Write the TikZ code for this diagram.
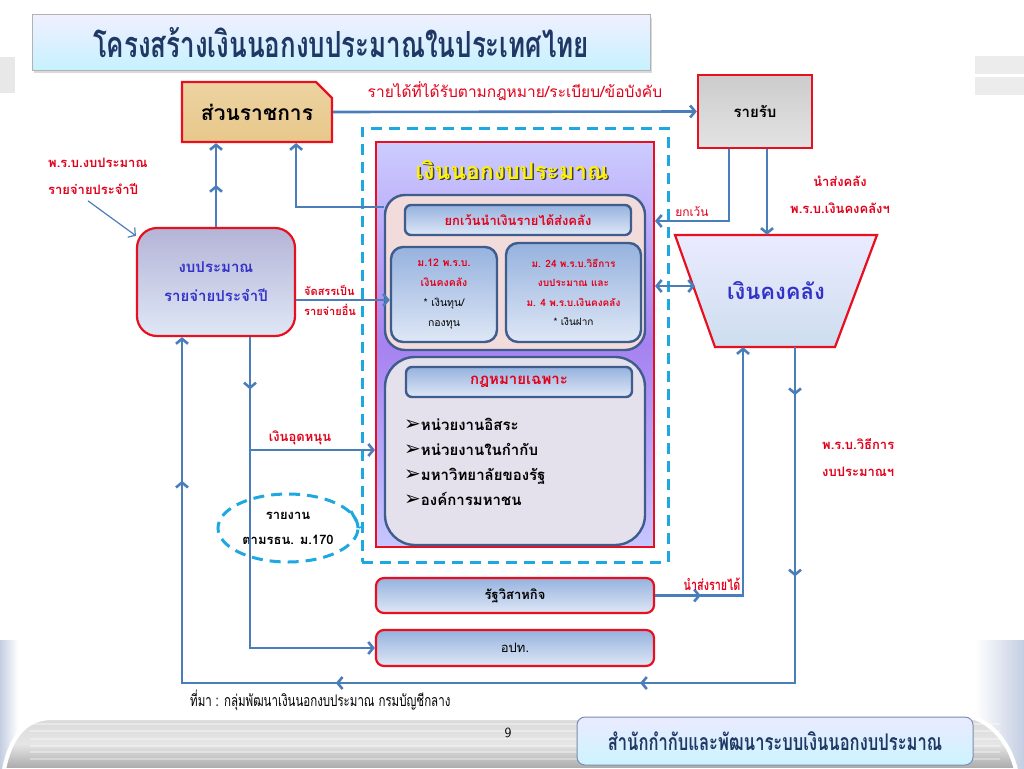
\documentclass[tikz,border=0pt]{standalone}
\usepackage{fontspec}
\newfontfamily\thai[Script=Thai]{Loma}
\newfontfamily\thainarrow[Script=Thai,FakeStretch=0.72]{Loma}
\newfontfamily\symfont{DejaVu Sans}
\usetikzlibrary{arrows.meta, shapes.geometric, shapes.misc, decorations.markings, shadows}
\definecolor{linkblue}{RGB}{74,126,187}
\definecolor{dashcyan}{RGB}{30,168,224}
\definecolor{boxred}{RGB}{232,16,32}
\definecolor{txtred}{RGB}{226,0,26}
\definecolor{navy}{RGB}{31,56,100}
\definecolor{txtblue}{RGB}{50,50,200}
\definecolor{frameblue}{RGB}{62,92,140}
\definecolor{paleblue}{RGB}{222,231,246}
\definecolor{midblue}{RGB}{150,178,222}
\definecolor{papyrus}{RGB}{232,200,138}
\definecolor{lilac}{RGB}{166,130,240}
\definecolor{sideshade}{RGB}{196,206,226}
\tikzset{
    >={Straight Barb[length=5pt,width=12pt]}, % open arrow heads
    conn/.style={color=linkblue, line width=2.6pt, ->},
    tipat/.style={postaction={decorate,decoration={markings,mark=at position #1 with {\arrow{>}}}}},
    redbox/.style={draw=boxred, line width=2.2pt, rounded corners=#1, top color=midblue, bottom color=paleblue, inner sep=0pt},
    innerbox/.style={draw=frameblue, line width=2.4pt, rounded corners=#1, inner sep=0pt},
    subbox/.style={innerbox=#1, top color=midblue, bottom color=paleblue},
    redlabel/.style={text=txtred, font=\thai\bfseries\fontsize{13}{27}\selectfont, align=left, inner sep=0pt},
    dashframe/.style={draw=dashcyan, line width=3pt, dash pattern=on 11pt off 7pt},
}
\newcommand{\itm}[1]{{\symfont\fontsize{20}{20}\selectfont\char"27A2}{\thai\bfseries #1}}
\begin{document}
\begin{tikzpicture}[x=1pt, y=-1pt]
    \useasboundingbox (0,0) rectangle (1024,768);
    % background of the slide
    \fill[gray!18] (0,57) rectangle (15,93);
    \fill[gray!15] (975,56) rectangle (1024,74);
    \fill[gray!15] (975,77) rectangle (1024,95);
    \fill[left color=sideshade, right color=white] (0,640) rectangle (18,768);
    \fill[left color=white, right color=sideshade] (975,640) rectangle (1024,768);
    \fill[top color=gray!30, bottom color=gray!70, middle color=gray!20, draw=white, line width=4pt]
        (4,770) .. controls (10,738) and (25,718) .. (52,718) -- (975,718)
        .. controls (995,726) and (1010,745) .. (1016,770) -- cycle;
    \foreach \s in {724,731,739,746,752,759} {
        \draw[white, opacity=0.35, line width=1.5pt] (30,\s) -- (1000,\s);
    }

    % Titel
    \node[draw=gray!60, line width=1pt, top color=blue!6!white, bottom color=blue!25!cyan!22,
          drop shadow={shadow xshift=2pt, shadow yshift=-3pt, opacity=0.3},
          minimum width=618, minimum height=55, inner sep=0pt] (title) at (341,42.5)
          {\thainarrow\bfseries\fontsize{36}{40}\selectfont\color{navy}โครงสร้างเงินนอกงบประมาณในประเทศไทย};

    % Kasten oben
    \node[chamfered rectangle, chamfered rectangle corners=north east, chamfered rectangle xsep=8pt,
          chamfered rectangle ysep=8pt, draw=boxred, line width=2.2pt, top color=papyrus!80!white,
          bottom color=papyrus, minimum width=150, minimum height=60, inner sep=0pt] (agency) at (257,112)
          {\thai\bfseries\fontsize{21}{24}\selectfont ส่วนราชการ};
    \node[draw=boxred, line width=2.4pt, top color=gray!40, bottom color=gray!22,
          minimum width=114, minimum height=73, inner sep=0pt] (revenue) at (755,111.5)
          {\thai\bfseries\fontsize{15}{18}\selectfont รายรับ};

    % Rahmen und Hauptkasten
    \node[dashframe, minimum width=306, minimum height=434] (frame) at (515,345) {};
    \node[draw=boxred, line width=2pt, top color=blue!20!white, bottom color=blue!22!white, middle color=lilac,
          minimum width=278, minimum height=405] (offbgt) at (515,344.5) {};
    \node[text=black!75, font=\thai\bfseries\fontsize{23}{26}\selectfont] (offtitleshade) at (513.5,171.5) {เงินนอกงบประมาณ};
    \node[text=yellow, font=\thai\bfseries\fontsize{23}{26}\selectfont] (offtitle) at (512,170) {เงินนอกงบประมาณ};

    % Gruppe 1
    \node[innerbox=20pt, fill={rgb,255:red,242;green,220;blue,219}, minimum width=260, minimum height=155] (grpA) at (515,272.5) {};
    \node[subbox=6pt, minimum width=226, minimum height=30] (exempt) at (518,220)
          {\thai\bfseries\fontsize{13}{16}\selectfont\color{txtred}ยกเว้นนำเงินรายได้ส่งคลัง};
    \node[subbox=12pt, minimum width=106, minimum height=95, align=center, font=\thai\fontsize{10.5}{20}\selectfont] (sec12) at (444,294.5)
          {\textcolor{txtred}{\bfseries ม.12 พ.ร.บ.}\\ \textcolor{txtred}{\bfseries เงินคงคลัง}\\ * เงินทุน/\\ กองทุน};
    \node[subbox=12pt, minimum width=135, minimum height=99, align=center, font=\thai\fontsize{10}{19.5}\selectfont] (sec24) at (573.5,292.5)
          {\textcolor{txtred}{\bfseries ม. 24 พ.ร.บ.วิธีการ}\\ \textcolor{txtred}{\bfseries งบประมาณ และ}\\
           \textcolor{txtred}{\bfseries ม. 4 พ.ร.บ.เงินคงคลัง}\\ * เงินฝาก};

    % Gruppe 2
    \node[innerbox=30pt, fill={rgb,255:red,228;green,224;blue,236}, minimum width=260, minimum height=188] (grpB) at (515,451) {};
    \node[subbox=6pt, minimum width=226, minimum height=30] (special) at (519,382)
          {\thai\bfseries\fontsize{15}{18}\selectfont\color{txtred}กฎหมายเฉพาะ};
    \node[anchor=west, align=left, font=\fontsize{15}{25}\selectfont, inner sep=0pt] (units) at (404,462)
          {\itm{หน่วยงานอิสระ}\\ \itm{หน่วยงานในกำกับ}\\ \itm{มหาวิทยาลัยของรัฐ}\\ \itm{องค์การมหาชน}};

    % Kasten links
    \node[draw=boxred, line width=2.2pt, rounded corners=20pt, top color=blue!30!gray!45, bottom color=paleblue,
          minimum width=158, minimum height=108, inner sep=0pt, align=center,
          font=\thai\bfseries\fontsize{15}{29}\selectfont, text=txtblue] (bgt) at (216,282)
          {งบประมาณ\\ รายจ่ายประจำปี};
    \node[redlabel, anchor=north west] (lawlabel) at (48,158) {พ.ร.บ.งบประมาณ\\รายจ่ายประจำปี};

    % Kasten unten
    \node[redbox=8pt, minimum width=278, minimum height=35] (soe) at (515,595.5)
          {\thai\bfseries\fontsize{13}{16}\selectfont รัฐวิสาหกิจ};
    \node[redbox=8pt, minimum width=278, minimum height=36] (lao) at (515,648)
          {\thai\fontsize{13}{16}\selectfont อปท.};

    % Kasten rechts
    \filldraw[draw=boxred, line width=2.2pt, top color=blue!8!white, bottom color={rgb,255:red,205;green,222;blue,238}]
        (675,235) -- (877,235) -- (835,347) -- (715,347) -- cycle;
    \node[minimum width=202, minimum height=112, inner sep=0pt, text=txtblue,
          font=\thai\bfseries\fontsize{22}{24}\selectfont] (treasury) at (776,291) {เงินคงคลัง};
    \coordinate (trleft) at (695,286);

    % Ellipse
    \node[ellipse, dashframe, minimum width=140, minimum height=68, align=center, inner sep=0pt,
          font=\thai\bfseries\fontsize{13}{25}\selectfont] (report) at (288,528) {รายงาน\\ ตามรธน. ม.170};
    \draw[dashframe] (report.15) -- (frame.west |- report.east);

    % Pfeile
    \draw[conn] (agency.east) -- (revenue.west)
        node[midway, above=6pt, text=txtred, font=\thai\fontsize{15.5}{18}\selectfont] (incomelabel)
        {รายได้ที่ได้รับตามกฎหมาย/ระเบียบ/ข้อบังคับ};
    \draw[conn, tipat=0.5] (bgt.north) -- (bgt.north |- agency.south);
    \draw[conn] ([yshift=-13pt]grpA.north west) -| (bgt.east |- agency.south);
    \draw[conn] ([yshift=-18pt]bgt.east) -- ([yshift=-18pt]bgt.east -| sec12.west);
    \node[redlabel, anchor=west, font=\thai\bfseries\fontsize{11}{20}\selectfont] (allotlabel) at (304,300) {จัดสรรเป็น\\รายจ่ายอื่น};
    \coordinate (split) at (250,450);
    \draw[conn, tipat=0.12] ([xshift=34pt]bgt.south) |- (lao.west);
    \draw[conn] (split) -- (split -| offbgt.west)
        node[pos=0.4, above=4pt, redlabel] (grantlabel) {เงินอุดหนุน};
    \draw[conn, tipat=0.037, tipat=0.177, tipat=0.379, tipat=0.614, tipat=0.889]
        ([xshift=19pt]treasury.south) |- (182,683) -- ([xshift=-34pt]bgt.south);
    \node[redlabel, anchor=west] (proclabel) at (822,458) {พ.ร.บ.วิธีการ\\งบประมาณฯ};
    \draw[conn] ([xshift=-26pt]revenue.south) |- ([yshift=-80pt]offbgt.north east)
        node[pos=0.75, above=3pt, redlabel, font=\thai\fontsize{12}{14}\selectfont] (exlabel) {ยกเว้น};
    \draw[conn] ([xshift=12pt]revenue.south) -- ([xshift=12pt]revenue.south |- treasury.north);
    \node[redlabel, align=center] (remitlabel) at (840,195) {นำส่งคลัง\\พ.ร.บ.เงินคงคลังฯ};
    \draw[conn, <->] (trleft -| offbgt.east) -- (trleft);
    \draw[conn, tipat=0.136] (soe.east) -| ([xshift=-33pt]treasury.south);
    \node[redlabel, font=\thainarrow\bfseries\fontsize{15}{18}\selectfont] (soelabel) at (712,584) {นำส่งรายได้};
    \draw[linkblue, line width=1.2pt, ->] ([xshift=40pt,yshift=-6pt]lawlabel.south west) -- (bgt.150);

    % Fusszeile
    \node[anchor=west, font=\thainarrow\fontsize{16}{18}\selectfont, inner sep=0pt] (source) at (190,700)
          {ที่มา : กลุ่มพัฒนาเงินนอกงบประมาณ กรมบัญชีกลาง};
    \node[font=\fontsize{14}{16}\selectfont\sffamily] (pageno) at (508,733) {9};
    \node[draw=frameblue!70, line width=1pt, rounded corners=8pt, top color=blue!8!white, bottom color=blue!22!cyan!20,
          minimum width=396, minimum height=48, inner sep=0pt] (office) at (775,741)
          {\thainarrow\bfseries\fontsize{23}{26}\selectfont\color{navy}สำนักกำกับและพัฒนาระบบเงินนอกงบประมาณ};
\end{tikzpicture}
\end{document}
